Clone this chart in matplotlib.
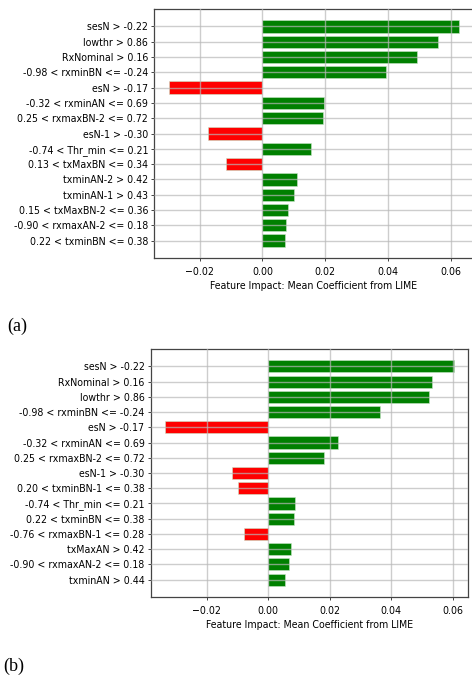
import matplotlib
matplotlib.use('Agg')
import matplotlib.pyplot as plt

# Explicaciones LIME: reglas (de arriba hacia abajo) y coeficiente medio
reglas_a = ['sesN > -0.22', 'lowthr > 0.86', 'RxNominal > 0.16',
            '-0.98 < rxminBN <= -0.24', 'esN > -0.17', '-0.32 < rxminAN <= 0.69',
            '0.25 < rxmaxBN-2 <= 0.72', 'esN-1 > -0.30', '-0.74 < Thr_min <= 0.21',
            '0.13 < txMaxBN <= 0.34', 'txminAN-2 > 0.42', 'txminAN-1 > 0.43',
            '0.15 < txMaxBN-2 <= 0.36', '-0.90 < rxmaxAN-2 <= 0.18',
            '0.22 < txminBN <= 0.38']
coef_a = [0.0625, 0.0558, 0.0491, 0.0394, -0.0298, 0.0196, 0.0192, -0.0174,
          0.0153, -0.0116, 0.0110, 0.0099, 0.0080, 0.0074, 0.0071]

reglas_b = ['sesN > -0.22', 'RxNominal > 0.16', 'lowthr > 0.86',
            '-0.98 < rxminBN <= -0.24', 'esN > -0.17', '-0.32 < rxminAN <= 0.69',
            '0.25 < rxmaxBN-2 <= 0.72', 'esN-1 > -0.30', '0.20 < txminBN-1 <= 0.38',
            '-0.74 < Thr_min <= 0.21', '0.22 < txminBN <= 0.38',
            '-0.76 < rxmaxBN-1 <= 0.28', 'txMaxAN > 0.42',
            '-0.90 < rxmaxAN-2 <= 0.18', 'txminAN > 0.44']
coef_b = [0.0604, 0.0534, 0.0524, 0.0363, -0.0336, 0.0227, 0.0181, -0.0119,
          -0.0098, 0.0088, 0.0082, -0.0078, 0.0075, 0.0066, 0.0053]

fuente = dict(family='DejaVu Sans', stretch='condensed')
tam = 7.6


def grafico_lime(ax, reglas, coef):
    pos = list(range(len(reglas)))[::-1]
    colores = ['green' if c > 0 else 'red' for c in coef]
    ax.barh(pos, coef, height=0.8, color=colores, edgecolor='#c8e6c8',
            linewidth=0.4)
    ax.set_yticks(pos)
    ax.set_yticklabels(reglas, fontsize=tam, **fuente)
    ax.set_xticks([-0.02, 0.0, 0.02, 0.04, 0.06])
    ax.set_xticklabels(['\u22120.02', '0.00', '0.02', '0.04', '0.06'],
                       fontsize=tam, **fuente)
    ax.set_xlabel('Feature Impact: Mean Coefficient from LIME', fontsize=tam,
                  labelpad=3, **fuente)
    ax.set_axisbelow(False)
    ax.grid(True, color='#b8b8b8', linewidth=1.0, alpha=0.7)
    ax.tick_params(axis='y', length=2.5, width=0.7, pad=2, color='#444444')
    ax.tick_params(axis='x', length=2.5, width=0.7, pad=4, color='#444444')
    for s in ax.spines.values():
        s.set_color('#444444')
        s.set_linewidth(0.9)


fig = plt.figure(figsize=(4.72, 6.77), dpi=100)

ax_a = fig.add_axes([154.3 / 472, 419 / 677, 319 / 472, 249 / 677])
grafico_lime(ax_a, reglas_a, coef_a)

ax_b = fig.add_axes([150.7 / 472, 80 / 677, 317.6 / 472, 248 / 677])
grafico_lime(ax_b, reglas_b, coef_b)

fig.text(7 / 472, 1 - 326 / 677, '(a)', family='Liberation Serif', fontsize=13,
         va='center')
fig.text(3 / 472, 1 - 666 / 677, '(b)', family='Liberation Serif', fontsize=13,
         va='center')

fig.savefig('out.png', dpi=100)
